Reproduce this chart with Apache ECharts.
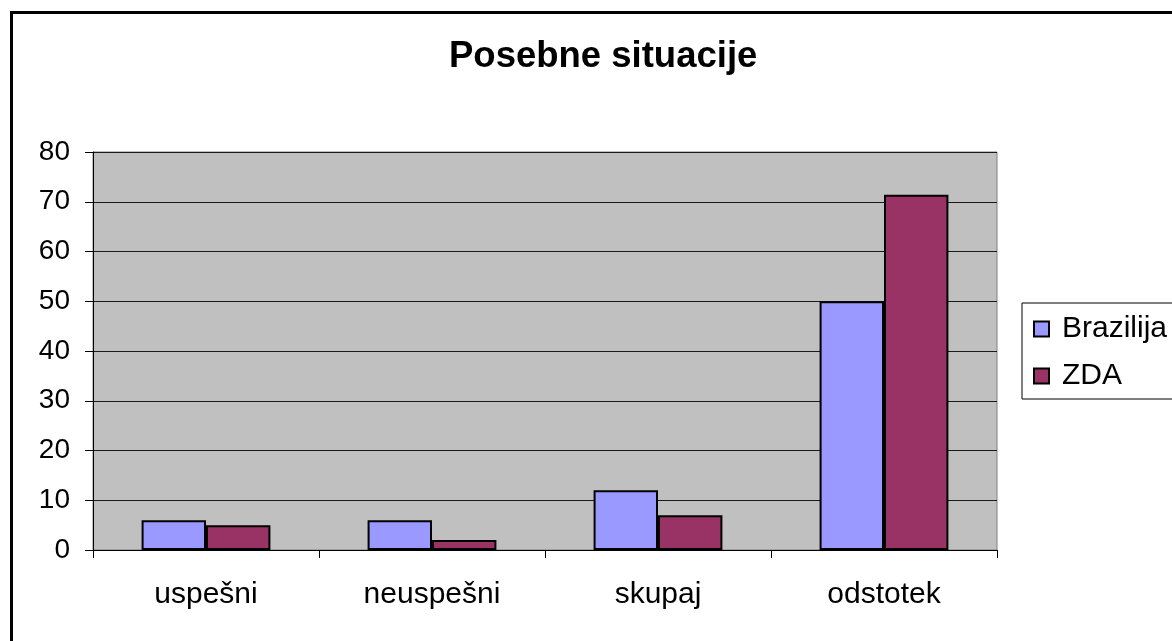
<!DOCTYPE html>
<html>
<head>
<meta charset="utf-8">
<script src="https://cdn.jsdelivr.net/npm/echarts@6/dist/echarts.min.js"></script>
<style>
  html, body { margin: 0; padding: 0; background: #fff; }
  #chart { width: 1172px; height: 641px; }
</style>
</head>
<body>
<div id="chart"></div>
<script>
// Categories and series values
var categories = ['uspešni', 'neuspešni', 'skupaj', 'odstotek'];
var brazilija = [6, 6, 12, 50];
var zda = [5, 2, 7, 71.4];

// Value axis range
var yMin = 0;
var yMax = 80;
var yStep = 10;

var FONT = 'Liberation Sans, Arial, sans-serif';

var chart = echarts.init(document.getElementById('chart'), null, { renderer: 'canvas' });

chart.setOption({
  backgroundColor: '#ffffff',
  animation: false,
  title: {
    text: 'Posebne situacije',
    left: 444,
    top: 33,
    textStyle: {
      fontFamily: FONT,
      fontSize: 36.5,
      fontWeight: 'bold',
      color: '#000'
    }
  },
  legend: {
    orient: 'vertical',
    left: 1022,
    top: 303,
    padding: [11, 10, 8, 11],
    itemGap: 17,
    itemWidth: 15,
    itemHeight: 15,
    icon: 'rect',
    backgroundColor: '#fff',
    borderColor: '#000',
    borderWidth: 1,
    textStyle: {
      fontFamily: FONT,
      fontSize: 30,
      color: '#000',
      padding: [0, 0, 0, 8]
    },
    data: ['Brazilija', 'ZDA']
  },
  grid: {
    left: 93,
    right: 175,
    top: 152,
    bottom: 91,
    show: true,
    backgroundColor: '#C0C0C0',
    borderColor: '#808080',
    borderWidth: 1,
    containLabel: false
  },
  xAxis: {
    type: 'category',
    data: categories,
    axisLine: { lineStyle: { color: '#000', width: 1 } },
    axisTick: { show: true, alignWithLabel: false, length: 8, lineStyle: { color: '#000' } },
    axisLabel: {
      fontFamily: FONT,
      fontSize: 30,
      color: '#000',
      margin: 30
    },
    splitLine: { show: false }
  },
  yAxis: {
    type: 'value',
    min: yMin,
    max: yMax,
    interval: yStep,
    axisLine: { show: true, lineStyle: { color: '#000', width: 1 } },
    axisTick: { show: true, length: 8, lineStyle: { color: '#000' } },
    axisLabel: {
      fontFamily: FONT,
      fontSize: 28,
      color: '#000',
      margin: 23
    },
    splitLine: { show: true, lineStyle: { color: '#1a1a1a', width: 1 } }
  },
  series: [
    {
      name: 'Brazilija',
      type: 'bar',
      data: brazilija,
      barGap: '0%',
      barCategoryGap: '43%',
      itemStyle: { color: '#9999FF', borderColor: '#000', borderWidth: 2 }
    },
    {
      name: 'ZDA',
      type: 'bar',
      data: zda,
      barGap: '0%',
      barCategoryGap: '43%',
      itemStyle: { color: '#993366', borderColor: '#000', borderWidth: 2 }
    }
  ],
  graphic: [
    {
      type: 'rect',
      left: 9,
      top: 10,
      shape: { x: 0, y: 0, width: 1300, height: 800 },
      style: { fill: 'none', stroke: '#000', lineWidth: 3 },
      silent: true,
      z: 100
    }
  ]
});
</script>
</body>
</html>
